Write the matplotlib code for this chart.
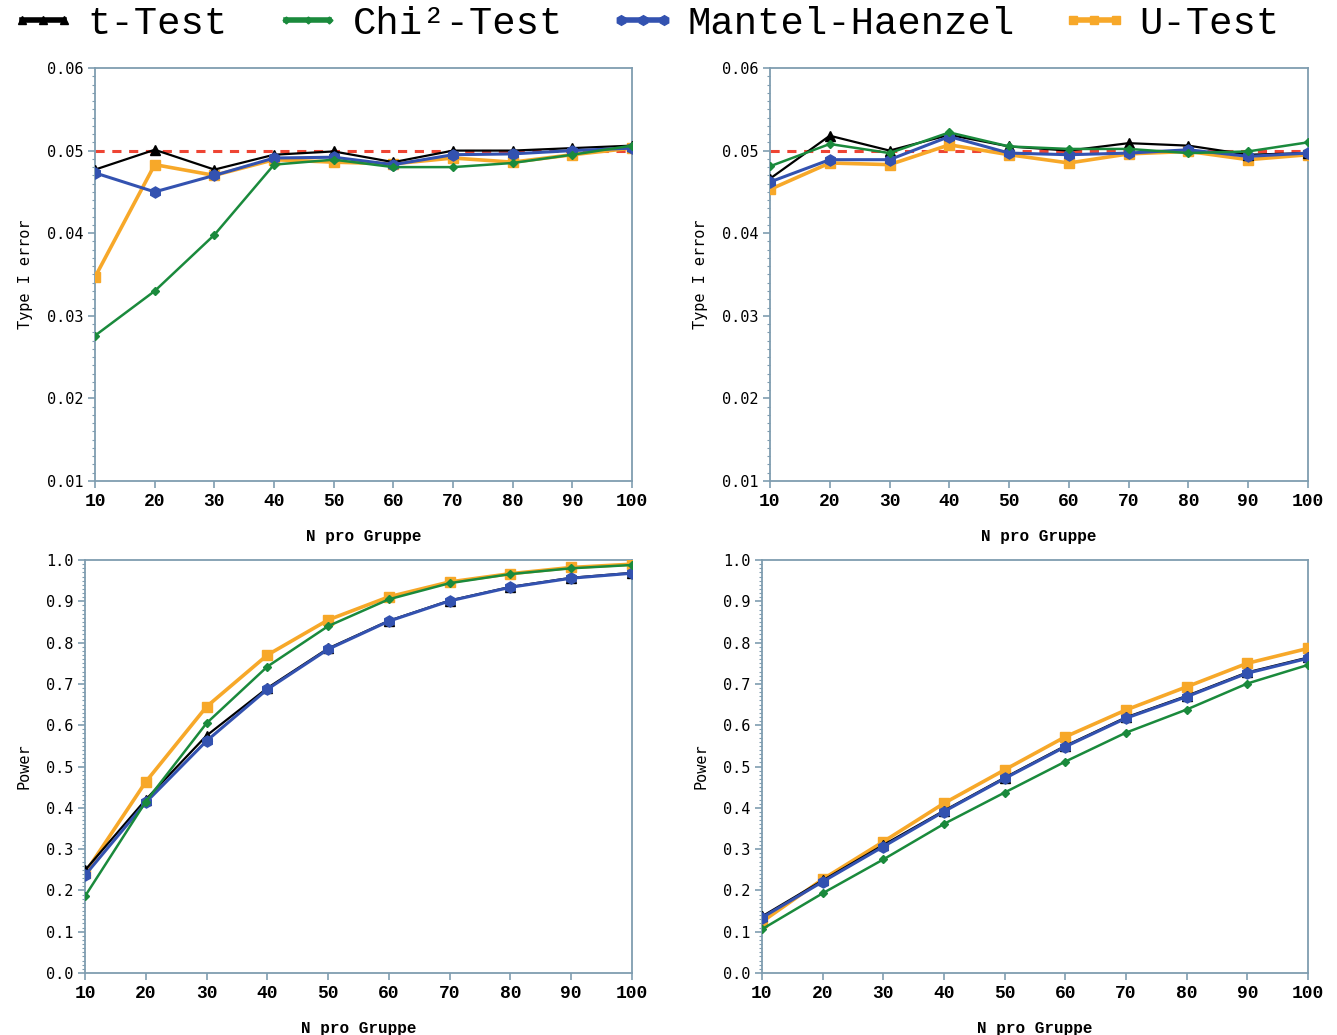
import matplotlib
matplotlib.use("Agg")
import matplotlib.pyplot as plt
from matplotlib.lines import Line2D
from matplotlib.ticker import MultipleLocator, FormatStrFormatter

n = [10, 20, 30, 40, 50, 60, 70, 80, 90, 100]

# type I error, left scenario
err1_t = [0.0477, 0.0501, 0.0477, 0.0495, 0.0499, 0.0486, 0.0500, 0.0500, 0.0503, 0.0506]
err1_chi = [0.0276, 0.0330, 0.0398, 0.0483, 0.0489, 0.0480, 0.0480, 0.0485, 0.0495, 0.0506]
err1_mh = [0.0473, 0.0450, 0.0470, 0.0491, 0.0492, 0.0483, 0.0495, 0.0496, 0.0500, 0.0503]
err1_u = [0.0347, 0.0483, 0.0470, 0.0489, 0.0486, 0.0484, 0.0491, 0.0486, 0.0495, 0.0503]

# type I error, right scenario
err2_t = [0.0466, 0.0518, 0.0500, 0.0519, 0.0505, 0.0500, 0.0509, 0.0506, 0.0495, 0.0497]
err2_chi = [0.0481, 0.0508, 0.0497, 0.0522, 0.0505, 0.0502, 0.0502, 0.0497, 0.0499, 0.0510]
err2_mh = [0.0462, 0.0489, 0.0489, 0.0517, 0.0497, 0.0495, 0.0497, 0.0501, 0.0493, 0.0497]
err2_u = [0.0453, 0.0485, 0.0483, 0.0507, 0.0495, 0.0485, 0.0496, 0.0499, 0.0489, 0.0495]

# power, left scenario
pow1_t = [0.249, 0.420, 0.575, 0.690, 0.786, 0.853, 0.902, 0.935, 0.957, 0.969]
pow1_chi = [0.186, 0.415, 0.605, 0.742, 0.840, 0.905, 0.944, 0.966, 0.980, 0.988]
pow1_mh = [0.237, 0.413, 0.562, 0.687, 0.784, 0.852, 0.901, 0.934, 0.956, 0.968]
pow1_u = [0.242, 0.463, 0.645, 0.770, 0.855, 0.911, 0.947, 0.967, 0.982, 0.990]

# power, right scenario
pow2_t = [0.137, 0.224, 0.310, 0.393, 0.473, 0.550, 0.619, 0.671, 0.728, 0.764]
pow2_chi = [0.106, 0.193, 0.275, 0.361, 0.437, 0.512, 0.582, 0.638, 0.701, 0.746]
pow2_mh = [0.134, 0.221, 0.306, 0.391, 0.471, 0.548, 0.617, 0.669, 0.726, 0.762]
pow2_u = [0.124, 0.227, 0.318, 0.411, 0.492, 0.572, 0.637, 0.693, 0.750, 0.786]

labels = ["t-Test", "Chi²-Test", "Mantel-Haenzel", "U-Test"]
colors = ["black", "#1a8a3c", "#3352b0", "#f7a829"]
markers = ["^", "D", "h", "s"]
sizes = [7, 4.5, 8, 7]
widths = [1.6, 1.8, 2.2, 2.6]
spine_col = "#7f9db0"

fig = plt.figure(figsize=(13.37, 10.35), dpi=100)
ax_tl = fig.add_axes([0.0711, 0.5353, 0.4016, 0.399])
ax_tr = fig.add_axes([0.5759, 0.5353, 0.4024, 0.399])
ax_bl = fig.add_axes([0.0636, 0.0599, 0.4091, 0.399])
ax_br = fig.add_axes([0.5699, 0.0599, 0.4084, 0.399])

panels = [
    (ax_tl, [err1_t, err1_chi, err1_mh, err1_u], "Type I error"),
    (ax_tr, [err2_t, err2_chi, err2_mh, err2_u], "Type I error"),
    (ax_bl, [pow1_t, pow1_chi, pow1_mh, pow1_u], "Power"),
    (ax_br, [pow2_t, pow2_chi, pow2_mh, pow2_u], "Power"),
]

draw_order = [3, 0, 2, 1]
for ax, series, ylab in panels:
    for i in draw_order:
        ax.plot(n, series[i], color=colors[i], marker=markers[i], ms=sizes[i],
                lw=widths[i], mec=colors[i], zorder=3)
    ax.set_xlim(10, 100)
    ax.xaxis.set_major_locator(MultipleLocator(10))
    if ylab == "Power":
        ax.set_ylim(0, 1.0)
        ax.yaxis.set_major_locator(MultipleLocator(0.1))
        ax.yaxis.set_minor_locator(MultipleLocator(0.01))
        ax.yaxis.set_major_formatter(FormatStrFormatter("%.1f"))
    else:
        ax.set_ylim(0.01, 0.06)
        ax.axhline(0.05, color="#ee4433", ls=(0, (3, 2.5)), lw=2.2, zorder=2)
        ax.yaxis.set_major_locator(MultipleLocator(0.01))
        ax.yaxis.set_minor_locator(MultipleLocator(0.001))
        ax.yaxis.set_major_formatter(FormatStrFormatter("%.2f"))
    for s in ax.spines.values():
        s.set_color(spine_col)
        s.set_linewidth(1.3)
    ax.tick_params(axis="both", which="major", direction="out", length=5,
                   color=spine_col, width=1.2)
    ax.tick_params(axis="y", which="minor", direction="out", length=2.5,
                   color=spine_col, width=0.8)
    for t in ax.get_xticklabels():
        t.set_fontfamily("Liberation Mono")
        t.set_fontweight("bold")
        t.set_fontsize(13)
    for t in ax.get_yticklabels():
        t.set_fontfamily("DejaVu Sans Mono")
        t.set_fontsize(11)
    ax.set_xlabel("N pro Gruppe", family="Liberation Mono", weight="bold",
                  fontsize=11.5, labelpad=14)
    ax.set_ylabel(ylab, family="DejaVu Sans Mono", fontsize=11, labelpad=10)

handles = [Line2D([], [], color=colors[i], marker=markers[i], ms=sizes[i] - 1,
                  lw=4) for i in range(4)]
fig.legend(handles, labels, loc="upper left", bbox_to_anchor=(0.006, 0.996),
           ncol=4, frameon=False, numpoints=3, handlelength=1.7,
           handletextpad=0.3, columnspacing=1.2, borderpad=0.05,
           borderaxespad=0.0,
           prop={"family": "Liberation Mono", "size": 28})

fig.savefig("out.png", dpi=100)
